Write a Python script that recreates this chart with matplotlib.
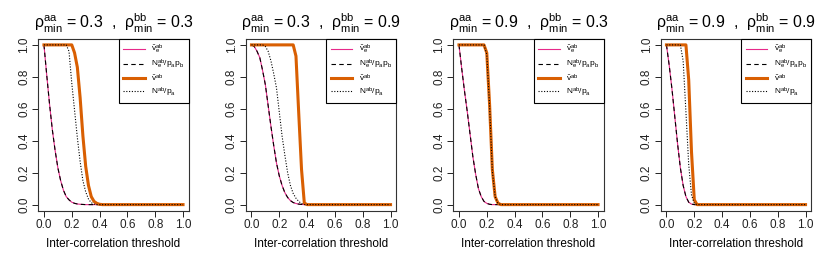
import numpy as np
import matplotlib
matplotlib.use("Agg")
from matplotlib import pyplot as plt

plt.rcParams['font.family'] = ['Liberation Sans', 'DejaVu Sans']
plt.rcParams['mathtext.fontset'] = 'custom'
plt.rcParams['mathtext.rm'] = 'Liberation Sans'
plt.rcParams['mathtext.it'] = 'Liberation Sans:italic'

# common threshold grid
thr = [0.00, 0.02, 0.04, 0.06, 0.08, 0.10, 0.12, 0.14, 0.16, 0.18, 0.20,
       0.22, 0.24, 0.26, 0.28, 0.30, 0.32, 0.34, 0.36, 0.38, 0.40, 0.42,
       0.45, 0.50, 0.60, 0.70, 0.80, 0.90, 1.00]

titles = [(0.3, 0.3), (0.3, 0.9), (0.9, 0.3), (0.9, 0.9)]

# panel 1
ve_1 = [1.0, 0.81, 0.63, 0.47, 0.34, 0.23, 0.15, 0.09, 0.05, 0.03, 0.015,
        0.008, 0.004, 0.002, 0.001, 0, 0, 0, 0, 0, 0, 0, 0, 0, 0, 0, 0, 0, 0]
v_1 = [1, 1, 1, 1, 1, 1, 1, 1, 1, 1, 1.0,
       0.95, 0.86, 0.67, 0.43, 0.24, 0.12, 0.05, 0.02, 0.008, 0.002, 0, 0, 0, 0, 0, 0, 0, 0]
npa_1 = [1, 1, 1, 1, 1, 1, 1, 1, 1.0, 0.96, 0.76,
         0.59, 0.42, 0.27, 0.15, 0.08, 0.035, 0.012, 0.003, 0, 0, 0, 0, 0, 0, 0, 0, 0, 0]

# panel 2
ve_2 = [1.0, 0.99, 0.96, 0.92, 0.84, 0.75, 0.62, 0.49, 0.37, 0.26, 0.18,
        0.12, 0.075, 0.045, 0.025, 0.013, 0.007, 0.003, 0.001, 0, 0, 0, 0, 0, 0, 0, 0, 0, 0]
v_2 = [1, 1, 1, 1, 1, 1, 1, 1, 1, 1, 1,
       1, 1, 1, 1, 1.0, 0.93, 0.57, 0.22, 0.01, 0, 0, 0, 0, 0, 0, 0, 0, 0]
npa_2 = [1, 1, 1, 1, 1, 0.99, 0.96, 0.90, 0.82, 0.73, 0.58,
         0.43, 0.31, 0.20, 0.12, 0.07, 0.04, 0.02, 0.007, 0, 0, 0, 0, 0, 0, 0, 0, 0, 0]

# panel 3
ve_3 = [1.0, 0.85, 0.71, 0.58, 0.44, 0.30, 0.19, 0.10, 0.05, 0.02, 0.008,
        0.002, 0, 0, 0, 0, 0, 0, 0, 0, 0, 0, 0, 0, 0, 0, 0, 0, 0]
v_3 = [1, 1, 1, 1, 1, 1, 1, 1, 1, 1.0, 0.95,
       0.63, 0.22, 0.05, 0.01, 0, 0, 0, 0, 0, 0, 0, 0, 0, 0, 0, 0, 0, 0]
npa_3 = [1, 1, 1, 1, 1, 1, 1, 1, 1, 1.0, 0.94,
         0.62, 0.21, 0.05, 0.01, 0, 0, 0, 0, 0, 0, 0, 0, 0, 0, 0, 0, 0, 0]

# panel 4
ve_4 = [1.0, 0.87, 0.72, 0.55, 0.38, 0.23, 0.12, 0.05, 0.015, 0.003, 0,
        0, 0, 0, 0, 0, 0, 0, 0, 0, 0, 0, 0, 0, 0, 0, 0, 0, 0]
v_4 = [1, 1, 1, 1, 1, 1, 1, 1.0, 0.78, 0.33, 0.03,
       0, 0, 0, 0, 0, 0, 0, 0, 0, 0, 0, 0, 0, 0, 0, 0, 0, 0]
npa_4 = [1, 1, 1, 1, 1, 1.0, 0.90, 0.58, 0.25, 0.06, 0.008,
         0, 0, 0, 0, 0, 0, 0, 0, 0, 0, 0, 0, 0, 0, 0, 0, 0, 0]

ve_all = [ve_1, ve_2, ve_3, ve_4]
ne_all = [ve_1, ve_2, ve_3, ve_4]   # N_e/p_a p_b lies on top of v_e
v_all = [v_1, v_2, v_3, v_4]
npa_all = [npa_1, npa_2, npa_3, npa_4]

labels = [r"$\hat{\mathrm{v}}_{\mathrm{e}}^{\mathrm{ab}}$",
          r"$\mathrm{N}_{\mathrm{e}}^{\mathrm{ab}}/\mathrm{p}_{\mathrm{a}}\mathrm{p}_{\mathrm{b}}$",
          r"$\hat{\mathrm{v}}^{\mathrm{ab}}$",
          r"$\mathrm{N}^{\mathrm{ab}}/\mathrm{p}_{\mathrm{a}}$"]

pink = "#E7298A"
orange = "#D95F02"

fig = plt.figure(figsize=(8.3, 2.59), dpi=100)

for i in range(4):
    left = (38.4 + i * 207.5) / 830
    ax = fig.add_axes([left, 1 - 211 / 259, 150.2 / 830, 172.5 / 259])
    ax.plot(thr, ve_all[i], color=pink, lw=0.8, label=labels[0])
    ax.plot(thr, ne_all[i], color="black", lw=0.8, ls=(0, (4, 3)), label=labels[1])
    ax.plot(thr, v_all[i], color=orange, lw=2.2, label=labels[2])
    ax.plot(thr, npa_all[i], color="black", lw=0.8, ls=(0, (1, 1.5)), label=labels[3])

    ax.set_xlim(-0.04, 1.04)
    ax.set_ylim(-0.04, 1.04)
    ax.set_xticks([0, 0.2, 0.4, 0.6, 0.8, 1.0])
    ax.set_yticks([0, 0.2, 0.4, 0.6, 0.8, 1.0])
    ax.set_xticklabels(["0.0", "0.2", "0.4", "0.6", "0.8", "1.0"], fontsize=8.5)
    ax.set_yticklabels(["0.0", "0.2", "0.4", "0.6", "0.8", "1.0"], fontsize=8.5,
                       rotation=90, va="center")
    ax.tick_params(direction="out", length=4, width=0.7, pad=2, colors="#222222")
    for s in ax.spines.values():
        s.set_linewidth(0.8)
        s.set_color("#333333")
    ax.set_xlabel("Inter-correlation threshold", fontsize=8.5, labelpad=5)

    a, b = titles[i]
    ax.set_title(r"$\mathrm{ρ}_{\mathrm{min}}^{\mathrm{aa}}$ = %.1f  ,  $\mathrm{ρ}_{\mathrm{min}}^{\mathrm{bb}}$ = %.1f" % (a, b),
                 fontsize=11.5, pad=7)

    leg = ax.legend(loc="upper right", fontsize=6, borderaxespad=0, fancybox=False,
                    framealpha=1, edgecolor="black", handlelength=2.6,
                    labelspacing=0.2, borderpad=0.5, handletextpad=0.8)
    leg.get_frame().set_linewidth(0.8)

fig.savefig("out.png", dpi=100)
